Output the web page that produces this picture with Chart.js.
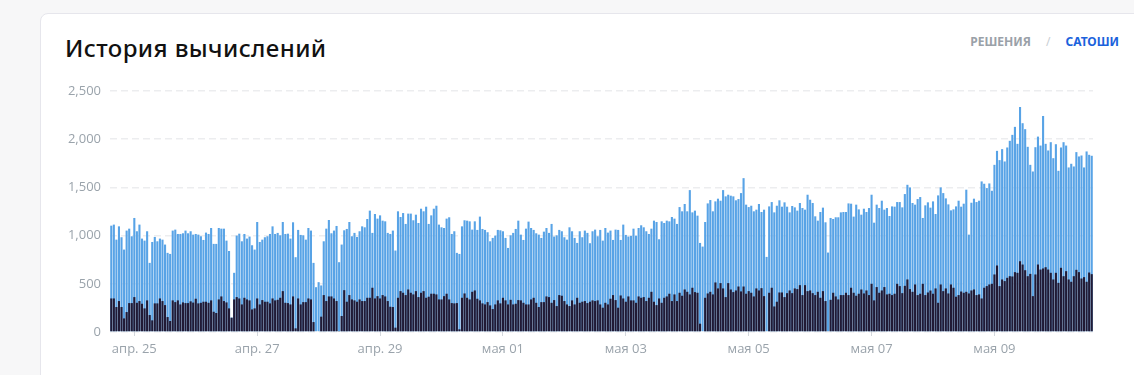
<!DOCTYPE html>
<html lang="ru">
<head>
<meta charset="utf-8">
<script src="https://cdn.jsdelivr.net/npm/chart.js@4.4.1/dist/chart.umd.min.js"></script>
<style>
  html, body { margin: 0; padding: 0; }
  body { width: 1134px; height: 375px; background: #f7f7f8; position: relative; overflow: hidden; font-family: 'Noto Sans', sans-serif; }
  .card { position: absolute; left: 40px; top: 13px; width: 1120px; height: 420px; background: #fff; border: 1px solid #e6e6ec; border-radius: 8px; box-sizing: border-box; }
  .title { position: absolute; left: 65px; top: 34px; font-size: 24px; font-weight: 500; color: #111; letter-spacing: 0.4px; line-height: 1.2; }
  .toggle { position: absolute; right: 15px; top: 35px; font-size: 12px; font-weight: 700; line-height: 14px; }
  .toggle .off { color: #9aa1a8; }
  .toggle .sep { color: #c9ced3; margin: 0 15px; font-weight: 400; }
  .toggle .on { color: #1b62dc; }
  .wrap { position: absolute; left: 0; top: 0; width: 1134px; height: 375px; }
</style>
</head>
<body>
<div class="card"></div>
<div class="title">История вычислений</div>
<div class="toggle"><span class="off">РЕШЕНИЯ</span><span class="sep">/</span><span class="on">САТОШИ</span></div>
<div class="wrap"><canvas id="grafico"></canvas></div>
<script>
// ======== Данные (почасовые, с 24 апр. 15:00) ========
const inicioHoras = new Date(2024, 3, 24, 15);

// Общее значение (синие столбцы)
const valoresTotal = [
  1103,1114,958,1096,983,855,1052,1072,993,1183,1045,1114,969,948,1045,717,934,986,941,969,958,907,821,810,1052,1062,1017,1017,1024,1052,1024,1045,1010,1017,1010,993,955,1031,1017,1079,914,914,1079,1072,1072,948,
  840,150,614,1000,1020,941,1017,969,990,900,855,1141,934,958,983,993,1017,1096,1017,1028,1003,1141,1017,1020,969,1138,776,1059,1007,1003,958,1079,1052,717,465,517,483,941,1072,1162,1024,1052,1100,724,907,1055,1069,1141,
  993,1028,986,1045,1096,1086,1172,1259,1028,1224,1176,1210,1155,1148,1028,1017,1052,845,1252,1193,1234,1121,1228,1228,1159,1217,1131,1279,1252,1300,1121,1210,1279,1310,1114,1086,1079,1176,1190,1017,1045,821,810,1096,1159,1155,1148,1062,
  1148,1059,1197,1069,1059,1035,941,976,1000,1059,1055,1045,976,872,1003,1028,1069,1155,1010,955,1072,1145,1079,1059,1024,1010,976,1041,1079,1028,1121,990,1003,1059,1045,983,958,1086,1045,976,924,1045,983,1052,1028,921,1045,1062,
  993,1059,948,1079,1031,1052,955,1062,1059,955,1114,1007,990,997,1072,1000,1079,1107,1086,1045,1017,1072,1155,1141,962,1148,1131,1155,1148,1193,1176,1121,1296,1252,1328,1252,1472,1241,1259,1207,924,886,1141,1334,1369,1252,1355,1383,
  1362,1472,1407,1424,1414,1407,1366,1379,1441,1596,1321,1296,1310,1252,1269,1328,1245,1269,779,1303,1348,1241,1310,1366,1300,1345,1300,1241,1307,1293,1259,1338,1286,1269,1424,1372,1338,1200,1155,1245,1290,1138,824,1183,1172,1190,1190,1241,
  1245,1245,1334,1331,1197,1321,1272,1217,1279,1245,1286,1424,1134,1321,1286,1362,1269,1286,1203,1303,1300,1348,1348,1293,1431,1527,1500,1338,1321,1379,1400,1183,1314,1345,1290,1355,1224,1417,1500,1441,1386,1324,1262,1272,1303,1362,1300,1331,1476,
  1010,1341,1383,1348,1362,1562,1538,1493,1541,1465,1734,1879,1783,1897,1769,1914,1983,2045,2128,1952,2334,2166,2104,1921,1734,1665,1917,2027,1934,2241,1952,1883,1969,1803,1948,1672,1914,1969,1934,1707,1745,1717,1866,1821,1831,1707,1873,1838,1828
];

// Собственная часть (тёмные столбцы)
const valoresProprios = [
  348,348,259,321,259,141,207,300,300,362,303,321,293,245,328,176,121,297,297,348,321,279,155,114,328,310,328,286,307,300,300,318,305,345,297,303,314,314,303,328,210,197,338,369,321,307,
  245,148,338,362,348,286,355,338,328,234,245,348,286,331,314,314,297,348,328,334,355,424,303,300,286,369,38,348,286,310,310,348,338,103,0,0,159,383,321,369,369,348,321,10,166,434,314,383,
  338,328,314,338,321,321,355,355,459,348,372,348,383,369,321,262,259,45,355,424,407,383,441,407,390,424,362,407,424,355,366,397,397,390,338,338,372,397,338,300,297,300,28,355,400,355,338,417,
  431,345,328,297,286,310,276,238,286,328,297,355,328,286,334,286,293,331,328,303,286,286,338,355,303,259,310,310,369,362,303,331,269,383,376,321,286,269,328,286,355,303,314,321,300,314,328,321,
  328,286,252,303,286,345,383,331,252,379,348,314,369,328,328,303,369,355,362,321,355,417,314,279,348,303,355,369,397,321,390,321,407,376,441,417,390,459,414,407,86,0,355,400,417,390,514,452,
  507,452,362,507,441,414,431,472,421,472,397,424,407,369,452,431,455,372,0,407,459,265,314,410,410,362,403,431,403,452,445,486,383,486,424,431,403,383,417,355,424,321,0,334,407,369,338,383,
  383,407,383,459,407,376,397,441,400,431,383,500,328,466,407,431,466,390,397,383,397,500,476,403,479,545,445,417,493,383,397,500,383,410,430,397,452,303,493,424,452,400,493,459,366,383,420,407,417,
  400,431,441,383,390,348,459,476,493,500,597,690,476,545,528,562,579,576,621,614,734,700,641,579,603,372,597,700,648,659,672,648,614,545,614,510,666,579,631,545,521,579,645,621,555,569,521,617,600
];

const marcasY = [0, 500, 1000, 1500, 2000, 2500];
const nomesMeses = { 3: 'апр.', 4: 'мая' };

// Категории: по одной на каждый час
const categorias = valoresTotal.map((_, i) => {
  const d = new Date(inicioHoras.getTime() + i * 3600 * 1000);
  return { mes: d.getMonth(), dia: d.getDate(), hora: d.getHours() };
});
const rotulos = categorias.map((c) => `${c.mes}-${c.dia}-${c.hora}`);

function rotuloDia(idx) {
  const c = categorias[idx];
  const dd = String(c.dia).padStart(2, '0');
  return `${nomesMeses[c.mes]} ${dd}`;
}

const corTexto = '#9aa3ab';
const fonteEixo = { family: "'Open Sans', 'Noto Sans', sans-serif", size: 13 };

new Chart(document.getElementById('grafico').getContext('2d'), {
  type: 'bar',
  data: {
    labels: rotulos,
    datasets: [
      { label: 'Свои', data: valoresProprios, backgroundColor: '#211a35', barPercentage: 0.82, categoryPercentage: 1 },
      { label: 'Всего', data: valoresTotal, backgroundColor: '#58a3e6', barPercentage: 0.82, categoryPercentage: 1 },
    ],
  },
  options: {
    responsive: true,
    maintainAspectRatio: false,
    animation: false,
    layout: { padding: { left: 60, top: 91, right: 41, bottom: 13 } },
    plugins: { legend: { display: false }, tooltip: { enabled: false } },
    scales: {
      x: {
        stacked: true,
        offset: true,
        border: { display: false },
        grid: { display: true, drawOnChartArea: false, drawTicks: true, tickLength: 4, tickColor: '#d3d7dc', offset: false },
        ticks: {
          autoSkip: false,
          maxRotation: 0,
          padding: 5,
          color: corTexto,
          font: fonteEixo,
          callback: (valor) => rotuloDia(valor),
        },
        afterBuildTicks: (escala) => {
          // mostra apenas meia-noite dos dias ímpares
          escala.ticks = escala.ticks.filter((t) => {
            const c = categorias[t.value];
            return c && c.hora === 0 && c.dia % 2 === 1;
          });
        },
        afterFit: (escala) => { escala.height = 30; },
      },
      y: {
        stacked: false,
        min: 0,
        max: 2500,
        z: 1,
        border: { display: false, dash: [7, 4] },
        grid: { color: 'rgba(200,202,208,0.35)', lineWidth: 1.5, drawTicks: false },
        ticks: {
          padding: 9,
          color: corTexto,
          font: fonteEixo,
          callback: (v) => v.toLocaleString('en-US'),
        },
        afterBuildTicks: (escala) => { escala.ticks = marcasY.map((v) => ({ value: v })); },
        afterFit: (escala) => { escala.width = 50; },
      },
    },
  },
});
</script>
</body>
</html>
